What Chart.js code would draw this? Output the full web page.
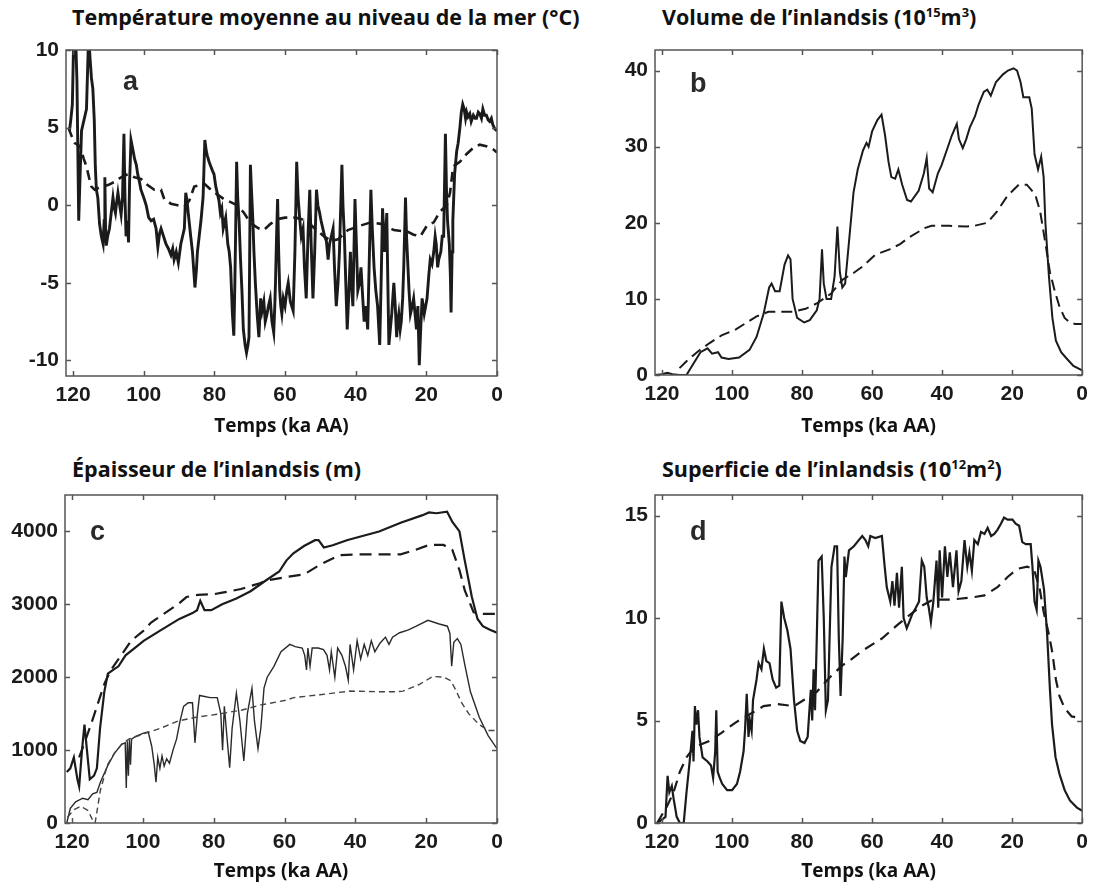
<!DOCTYPE html>
<html lang="fr">
<head>
<meta charset="utf-8">
<title>Inlandsis</title>
<script src="https://cdn.jsdelivr.net/npm/chart.js@4/dist/chart.umd.min.js"></script>
<style>
  html, body { margin: 0; padding: 0; background: #fff; }
  #page { position: relative; width: 1095px; height: 890px; overflow: hidden; }
  canvas { position: absolute; }
  .ptitle {
    position: absolute; font-family: "Open Sans", sans-serif; font-weight: 700;
    font-size: 21.5px; line-height: 28px; color: #111; white-space: nowrap;
  }
  .ptitle sup { font-size: 0.6em; line-height: 0; vertical-align: 0.6em; }
</style>
</head>
<body>
<div id="page">
  <div class="ptitle" style="left:72px;top:3px">Température moyenne au niveau de la mer (°C)</div>
  <div class="ptitle" style="left:662px;top:3px">Volume de l’inlandsis (10<sup>15</sup>m<sup>3</sup>)</div>
  <div class="ptitle" style="left:72px;top:455px">Épaisseur de l’inlandsis (m)</div>
  <div class="ptitle" style="left:662px;top:455px">Superficie de l’inlandsis (10<sup>12</sup>m<sup>2</sup>)</div>
  <canvas id="chartA" width="548" height="445" style="left:0;top:0"></canvas>
  <canvas id="chartB" width="547" height="445" style="left:548px;top:0"></canvas>
  <canvas id="chartC" width="548" height="445" style="left:0;top:445px"></canvas>
  <canvas id="chartD" width="547" height="445" style="left:548px;top:445px"></canvas>
</div>
<script>
// time axis (ka before present) shared by all panels
const timeTicks = [120, 100, 80, 60, 40, 20, 0];

// a: mean sea-level temperature (°C)
const tempTicks = [-10, -5, 0, 5, 10];
const aSolidT = [121.0,120.6,120.2,119.8,119.3,118.9,118.4,118.0,117.6,117.2,116.6,116.2,115.6,115.2,114.8,114.4,114.0,113.7,113.4,113.0,
  112.5,112.0,111.5,111.2,111.0,110.8,110.6,110.2,109.7,109.2,108.7,108.3,108.0,107.6,107.3,106.8,106.4,106.0,105.6,105.3,
  105.0,104.6,104.3,104.0,103.6,103.0,102.6,102.1,101.7,101.2,100.8,100.0,99.3,98.6,97.9,97.2,96.5,96.0,95.5,95.1,
  94.4,93.7,93.0,92.3,91.8,91.4,90.8,90.2,89.5,89.0,88.5,88.1,87.7,87.4,86.7,86.2,85.9,85.5,85.1,84.8,
  84.3,83.8,83.2,82.7,82.3,82.0,81.5,81.0,80.5,80.1,79.6,79.2,78.7,78.3,77.9,77.5,76.8,76.2,75.8,75.4,
  74.9,74.5,74.2,74.0,73.7,73.4,73.0,72.6,72.2,71.8,71.3,70.9,70.5,70.2,69.8,69.5,69.1,68.8,68.4,67.9,
  67.4,67.1,66.9,66.5,66.0,65.6,65.1,64.7,64.2,63.7,63.2,62.9,62.7,62.4,62.1,61.8,61.5,61.2,60.9,60.5,
  60.0,59.5,59.1,58.5,57.7,57.2,56.7,56.3,55.8,55.4,54.9,54.5,54.0,53.5,53.0,52.6,52.1,51.6,51.1,50.7,
  50.2,49.8,49.3,48.8,48.3,47.8,47.4,46.9,46.4,46.0,45.5,45.0,44.6,43.9,43.6,43.2,42.8,42.4,42.0,41.5,
  41.2,40.8,40.5,40.2,39.8,39.4,38.9,38.5,38.0,37.6,37.1,36.6,36.2,35.7,35.3,34.8,34.3,33.8,33.2,32.8,
  32.4,32.1,31.8,31.5,31.2,30.9,30.6,30.2,29.8,29.5,29.2,28.8,28.4,28.1,27.8,27.4,27.1,26.7,26.4,25.9,
  25.6,25.2,24.9,24.5,24.0,23.6,23.2,22.8,22.4,22.0,21.6,21.2,20.9,20.6,20.2,19.8,19.3,18.9,18.4,17.9,
  17.5,17.2,16.8,16.5,15.9,15.5,15.1,14.6,14.3,14.0,13.5,13.2,13.0,12.7,12.5,12.0,11.4,11.0,10.5,10.1,
  9.7,9.3,8.9,8.6,8.2,7.7,7.3,6.7,6.2,5.8,5.3,4.9,4.4,4.0,3.5,3.0,2.5,2.1,1.6,1.2,0.6,0.0];
const aSolidV = [4.8,5.6,6.5,11,11,8,-1.0,2,4.8,5.2,5.8,6.2,11,9.5,8.2,7.5,5.5,2.5,1.0,0.5,
  -1.2,-2.0,-2.5,-1.0,1.8,-1.5,-2.6,-2.0,-1.5,-0.5,0.5,-0.2,-0.5,0.3,0.8,0.0,-0.6,0.5,4.6,0.5,
  -2.0,-1.0,-2.4,1.5,4.2,3.5,3.0,2.6,2.0,1.5,1.0,0.5,0.0,-0.8,-1.0,-0.9,-1.5,-2.7,-1.8,-1.5,
  -2.0,-2.5,-2.8,-3.2,-2.8,-3.5,-3.0,-3.7,-2.5,-2.0,-1.5,0.8,0.2,-0.5,-2.0,-3.0,-4.0,-5.3,-4.2,-3.0,
  -2.0,-1.0,0.5,4.2,3.5,3.2,2.8,2.5,2.2,2.0,1.2,0.8,0.3,-0.5,-0.2,-1.5,-0.8,-2.5,-3.0,-4.0,
  -7.0,-8.4,-5.0,-2.0,2.8,0.5,-1.0,-3.5,-5.5,-8.0,-9.0,-9.5,-9.0,-8.5,2.6,1.0,-1.0,-3.0,-5.0,-7.0,
  -8.5,-7.0,-6.0,-6.8,-6.2,-7.5,-7.0,-6.5,-6.0,-7.5,-8.2,-6.5,-5.0,-2.0,0.4,-3.0,-5.5,-6.5,-7.0,-6.0,
  -6.5,-5.5,-5.0,-6.2,-6.8,-3.0,2.8,0.5,-1.0,-2.0,-1.5,-4.0,-6.0,-2.0,1.0,-2.5,-6.0,-3.0,1.0,0.0,
  -0.5,-1.0,-1.5,-2.0,-2.3,-3.5,-2.5,-2.0,-1.5,-4.0,-6.5,-5.0,-3.0,2.6,0.0,-2.0,-5.0,-8.0,-6.0,-3.0,
  -5.0,-6.5,-3.0,0.4,-2.5,-5.5,-5.0,-4.0,-6.0,-7.5,-6.5,-8.0,-4.0,1.0,-1.5,-4.0,-5.5,-6.5,-9.0,-5.0,
  -0.2,-1.5,-3.0,-2.0,-0.5,-5.0,-9.0,-8.0,-7.0,-6.0,-5.0,-6.5,-8.5,-7.5,-7.0,-8.0,-7.5,-6.0,-4.0,0.5,
  -2.0,-4.0,-5.5,-7.0,-6.5,-6.0,-7.0,-8.0,-6.5,-10.3,-8.0,-6.0,-6.5,-7.0,-6.5,-6.0,-4.5,-3.5,-3.8,-3.0,
  -2.0,-2.5,-4.0,-3.5,-3.0,-2.0,-2.0,4.6,1.0,-1.0,-2.5,-4.5,-6.9,-3.0,-1.0,2.0,3.5,4.0,5.0,6.0,
  6.5,6.2,5.6,6.0,5.7,5.9,5.4,5.8,5.6,5.6,6.0,5.9,5.6,6.2,5.8,5.8,5.5,5.4,5.6,5.2,4.9,4.8];
const aDashT = [121.3,120.5,119.5,118.0,117.0,116.2,115.5,114.8,113.9,112.0,110.1,108.3,106.4,104.5,102.6,100.8,98.9,97.0,95.1,94.2,
  92.3,90.4,88.5,87.1,85.7,84.0,82.9,81.0,79.2,77.3,75.4,73.5,71.6,70.2,68.8,67.4,66.0,64.1,62.3,60.0,
  57.0,55.3,53.0,51.6,49.0,46.9,45.0,42.2,38.5,35.7,32.9,29.2,25.4,23.6,21.7,19.8,17.9,16.1,14.2,13.3,
  12.4,10.5,8.6,6.7,4.9,3.0,1.1,0.0];
const aDashV = [5.0,4.5,4.0,3.8,3.0,2.5,1.8,1.2,1.0,1.2,1.3,1.5,1.8,2.0,1.8,1.7,1.3,1.0,1.0,0.4,
  0.1,0.0,-0.1,0.3,1.2,1.3,1.4,1.0,0.7,0.4,0.2,0.0,-0.5,-1.0,-1.3,-1.5,-1.6,-1.2,-0.9,-0.8,
  -0.8,-0.9,-1.2,-1.5,-2.0,-2.3,-2.2,-1.6,-1.3,-1.1,-1.2,-1.6,-1.7,-1.9,-2.0,-1.3,-1.1,-0.4,0.0,0.8,
  2.5,2.8,3.3,3.7,3.9,3.8,3.6,3.4];

// b: ice-sheet volume (10^15 m^3)
const volTicks = [0, 10, 20, 30, 40];
const bSolidT = [122.0,120.0,118.5,117.0,115.0,113.0,111.0,109.0,107.0,105.7,104.0,103.0,101.0,98.0,95.0,93.0,91.0,89.4,88.7,87.7,
  86.4,85.0,84.0,83.3,82.7,81.4,79.4,77.8,75.8,75.0,74.3,73.8,73.0,71.7,70.7,69.9,69.2,68.5,67.7,66.7,
  65.3,64.1,62.6,61.6,61.0,60.0,58.5,57.3,56.3,55.3,54.5,53.4,52.5,51.4,50.0,48.9,46.7,45.2,44.4,43.7,
  42.7,41.2,40.2,38.7,37.2,35.8,35.2,34.1,33.1,32.1,30.6,29.6,28.1,27.1,26.1,24.6,22.6,21.2,19.6,18.6,
  17.6,16.8,15.1,14.4,13.6,12.6,11.7,11.0,10.5,9.5,8.5,7.5,6.0,4.5,2.5,0.0];
const bSolidV = [0,0.1,0.3,0.1,0,0,1.5,3.0,3.5,2.8,3.0,2.3,2.1,2.3,3.3,5.0,8.0,11.5,12.0,11.0,
  11.0,14.5,15.7,15.2,10.0,7.5,6.9,7.2,8.5,10.0,16.5,12.0,10.0,10.0,13.0,19.5,13.5,11.5,12.0,17.0,
  24.0,27.0,29.5,30.5,30.0,32.0,33.5,34.2,31.5,28.0,26.0,25.8,27.0,25.0,23.0,22.8,24.2,26.5,28.5,24.5,
  24.0,26.5,27.5,29.5,31.5,33.0,31.0,29.8,31.0,32.5,34.0,35.5,37.2,37.5,36.7,38.5,39.5,40.0,40.3,40.0,
  38.5,36.5,36.5,35.0,29.0,27.0,28.7,26.0,20.0,13.0,7.5,4.5,3.0,2.2,1.2,0.6];
const bDashT = [115.0,113.0,110.0,106.4,103.0,98.9,93.0,89.6,86.0,82.6,79.0,75.8,71.7,68.5,65.0,62.6,59.1,55.0,52.0,49.7,
  45.0,43.0,38.0,33.0,30.8,27.1,24.3,21.4,18.1,15.8,13.4,12.0,10.6,9.2,7.8,6.5,5.0,3.5,2.0,0.0];
const bDashV = [0.9,1.8,3.0,4.2,5.2,6.0,7.7,8.3,8.3,8.3,8.7,9.4,10.7,12.5,13.5,14.3,15.8,16.5,17.2,18.0,
  19.3,19.6,19.6,19.5,19.6,20.0,21.5,23.5,25.0,25.0,23.7,21.5,17.6,13.5,11.0,9.0,7.5,6.9,6.7,6.7];

// c: ice-sheet thickness (m)
const thickTicks = [0, 1000, 2000, 3000, 4000];
const cUpperSolidT = [121.5,120.5,119.5,118.5,118.0,117.2,116.5,115.8,115.0,113.8,113.0,112.1,110.9,109.9,108.4,106.9,104.9,101.8,99.8,94.8,
  89.7,86.0,84.7,83.8,82.6,80.7,77.6,73.6,69.6,65.5,61.5,59.5,57.5,54.5,51.4,50.4,48.9,46.4,42.4,39.3,
  33.3,27.2,21.2,19.2,17.1,14.1,12.6,10.6,9.1,7.1,5.5,4.0,2.0,0.0];
const cUpperSolidV = [700,750,900,600,500,1000,1350,1000,600,650,750,1300,1800,2050,2100,2150,2300,2420,2500,2650,
  2800,2880,2920,3050,2920,2920,3000,3080,3180,3320,3450,3600,3700,3800,3880,3880,3780,3810,3880,3920,
  4000,4120,4220,4260,4250,4270,4130,4000,3600,3100,2800,2700,2650,2610];
const cUpperDashT = [118.0,116.5,114.6,112.7,110.8,109.0,107.0,103.3,99.8,97.7,93.8,90.1,87.7,84.5,79.8,77.6,72.3,67.0,64.8,59.5,
  54.5,49.4,44.4,39.3,32.3,27.2,23.2,19.2,15.1,12.6,10.6,9.1,6.6,4.0,0.0];
const cUpperDashV = [900,1100,1360,1640,1920,2100,2240,2500,2640,2750,2880,3000,3100,3130,3140,3160,3210,3290,3330,3375,
  3410,3560,3675,3685,3685,3685,3745,3815,3815,3745,3470,3190,2890,2870,2870];
const cLowerSolidT = [121.5,120.5,119.0,117.0,115.5,114.2,113.0,112.0,110.0,108.0,106.0,105.0,104.7,104.4,104.1,103.8,103.5,103.2,102.0,100.0,
  98.5,97.5,96.8,96.3,95.8,95.2,94.6,94.0,93.3,92.5,91.5,90.5,89.5,88.5,87.2,86.0,85.3,84.6,84.0,81.0,
  79.0,78.0,77.5,77.0,76.3,75.5,74.8,73.6,72.6,71.5,70.5,69.2,68.5,67.5,66.7,65.8,64.9,63.0,61.0,58.5,
  57.0,55.0,54.3,53.8,53.4,52.8,52.2,50.5,49.0,48.0,47.3,46.8,45.8,45.0,43.8,42.8,42.0,41.5,40.5,39.5,
  38.5,37.5,36.5,35.5,34.5,33.0,31.5,30.5,29.5,27.5,25.0,22.8,19.5,16.3,14.0,13.3,12.8,12.2,11.2,10.2,
  9.0,7.5,5.0,2.5,0.0];
const cLowerSolidV = [0,200,290,340,320,400,420,560,780,960,1080,1100,480,1120,650,1150,800,1150,1190,1230,
  1250,1050,800,560,900,750,920,780,880,820,1000,1150,1400,1600,1650,1650,1100,1500,1750,1720,
  1720,1500,1000,1600,1200,760,1300,1780,1400,850,1500,1850,1400,1020,1300,1850,2000,2150,2350,2450,
  2420,2400,2300,2100,2400,2150,2400,2400,2380,2300,2100,2350,2000,2400,2300,2150,1960,2450,2100,2500,
  2250,2450,2300,2500,2350,2470,2550,2450,2550,2610,2650,2700,2780,2730,2700,2600,2150,2480,2530,2450,
  2150,1800,1450,1200,1020];
const cLowerDashT = [121.3,119.5,117.5,115.5,114.2,113.5,112.0,110.0,108.0,106.0,104.0,100.0,95.0,90.0,85.0,78.0,72.0,66.7,60.0,57.4,
  50.0,41.5,32.0,28.4,26.5,22.0,18.1,15.0,13.0,11.6,10.0,8.0,5.0,2.5,0.0];
const cLowerDashV = [80,180,230,170,40,0,450,800,960,1080,1150,1220,1300,1400,1450,1500,1550,1620,1680,1720,
  1760,1810,1800,1800,1810,1900,2010,2000,1950,1820,1650,1500,1350,1270,1270];

// d: ice-sheet area (10^12 m^2)
const areaTicks = [0, 5, 10, 15];
const dSolidT = [121.4,120.5,119.0,118.4,117.9,117.2,116.7,115.8,114.9,113.8,113.0,112.1,111.3,111.0,110.6,110.2,109.7,109.3,108.4,107.0,
  106.0,105.4,104.8,104.5,104.1,103.5,102.8,101.4,100.0,98.6,97.7,96.7,96.3,95.8,95.3,94.9,94.4,94.0,93.0,92.4,
  91.6,90.9,90.2,89.3,88.4,87.4,86.5,85.9,85.1,84.2,83.3,82.3,81.4,80.5,79.3,78.4,77.9,77.5,77.1,76.7,
  76.3,75.8,75.3,74.4,73.8,73.2,72.6,71.6,70.7,70.0,69.5,69.0,68.4,67.9,67.5,66.6,65.2,63.8,62.8,61.9,
  61.1,60.5,59.1,57.2,56.4,55.8,54.8,54.2,53.6,52.9,52.3,51.5,51.0,50.1,49.4,48.5,47.5,46.6,45.8,45.1,
  44.4,43.8,43.2,42.5,41.6,41.1,40.7,40.0,39.2,38.5,37.8,36.9,35.9,35.3,34.5,33.6,32.8,32.2,31.5,30.8,
  29.8,28.9,27.9,27.0,26.0,25.1,24.2,23.2,22.3,21.3,19.9,19.0,18.0,17.1,16.1,14.7,14.2,13.6,13.0,12.5,
  11.9,10.9,10.0,9.2,8.6,7.6,6.5,5.0,3.5,1.5,0.0];
const dSolidV = [0,0.1,0.3,2.3,1.5,1.8,1.2,0.3,0,0,1.5,3.0,4.5,3.0,5.7,4.8,5.5,4.2,3.2,3.0,
  2.8,2.2,3.5,5.5,2.5,2.2,1.9,1.6,1.6,1.9,2.5,3.5,4.5,6.3,4.2,5.0,4.5,6.0,7.0,7.8,
  7.5,8.5,7.9,7.8,7.0,6.6,6.7,10.8,10.0,9.4,8.5,6.0,4.5,4.0,3.9,4.2,5.5,6.5,5.0,7.5,
  5.5,9.0,12.8,13.0,10.0,5.5,6.0,12.5,13.5,13.5,9.0,6.2,9.0,13.0,12.0,13.3,13.5,13.8,14.0,13.8,
  13.5,14.0,13.9,14.0,12.5,11.5,10.8,11.8,10.6,12.2,10.5,12.5,10.0,9.5,9.8,10.2,10.5,10.8,12.8,12.5,
  11.0,10.5,9.8,10.8,12.8,10.5,13.3,11.0,13.5,12.0,13.2,11.5,13.3,11.3,11.8,13.8,12.5,13.2,12.3,13.8,
  13.6,14.2,14.1,14.4,14.0,14.1,14.3,14.6,14.9,14.8,14.8,14.6,14.5,13.7,13.6,13.6,12.5,10.8,10.4,12.8,
  12.5,11.4,9.2,6.5,4.8,3.2,2.4,1.6,1.1,0.75,0.6];
const dDashT = [121.4,118.6,116.7,114.9,113.0,111.2,109.3,106.5,103.0,99.0,95.0,91.0,87.0,82.3,79.5,75.8,72.1,68.4,66.6,62.8,
  57.2,52.5,49.6,45.8,42.5,37.4,31.7,27.9,24.2,21.3,18.5,15.7,13.8,12.1,11.0,9.5,8.5,7.5,6.5,5.0,
  3.0,0.0];
const dDashV = [0,0.8,1.5,2.5,3.2,3.6,3.8,4.0,4.4,4.9,5.3,5.7,5.8,5.7,6.0,6.4,7.1,7.7,7.9,8.4,
  9.0,9.7,10.1,10.6,10.9,10.9,11.0,11.1,11.5,12.0,12.4,12.5,12.4,11.4,10.3,9.2,8.3,7.0,6.2,5.6,
  5.2,5.1];

const panelLetters = ['a', 'b', 'c', 'd'];

const ink = '#1b1b1b';
const tickFont = { family: '"Liberation Sans", Arial, sans-serif', size: 21, weight: 'bold' };
const titleFont = { family: '"Open Sans", sans-serif', size: 19, weight: 'bold' };

function pts(ts, vs) {
  return ts.map((t, i) => ({ x: t, y: vs[i] }));
}

// matlab-like box with inward ticks and the panel letter
const boxPlugin = {
  id: 'box',
  afterDatasetsDraw(chart, args, opts) {
    const { ctx, chartArea: a, scales } = chart;
    ctx.save();
    ctx.strokeStyle = '#555';
    ctx.lineWidth = 1.5;
    ctx.strokeRect(a.left, a.top, a.width, a.height);
    ctx.beginPath();
    scales.x.ticks.forEach(t => {
      const px = Math.round(scales.x.getPixelForValue(t.value)) + 0.5;
      ctx.moveTo(px, a.bottom); ctx.lineTo(px, a.bottom - 5);
      ctx.moveTo(px, a.top); ctx.lineTo(px, a.top + 5);
    });
    scales.y.ticks.forEach(t => {
      const py = Math.round(scales.y.getPixelForValue(t.value)) + 0.5;
      ctx.moveTo(a.left, py); ctx.lineTo(a.left + 5, py);
      ctx.moveTo(a.right, py); ctx.lineTo(a.right - 5, py);
    });
    ctx.stroke();
    ctx.fillStyle = '#2a2a2a';
    ctx.font = 'bold 27px "Liberation Sans", Arial, sans-serif';
    ctx.textBaseline = 'alphabetic';
    ctx.fillText(opts.letter, a.left + opts.dx, a.top + opts.dy);
    ctx.restore();
  }
};

function makePanel(id, cfg) {
  const datasets = cfg.series.map(s => ({
    data: pts(s.t, s.v),
    borderColor: s.color || ink,
    borderWidth: s.width,
    borderDash: s.dash || [],
    pointRadius: 0,
    tension: 0,
    fill: false
  }));
  return new Chart(document.getElementById(id), {
    type: 'line',
    data: { datasets },
    plugins: [boxPlugin],
    options: {
      responsive: false,
      animation: false,
      devicePixelRatio: 1,
      layout: { padding: { top: cfg.top, right: cfg.right, left: 0, bottom: 0 } },
      plugins: {
        legend: { display: false },
        tooltip: { enabled: false },
        box: { letter: cfg.letter, dx: cfg.letterDx, dy: cfg.letterDy }
      },
      scales: {
        x: {
          type: 'linear', reverse: true, min: 0, max: 122,
          afterBuildTicks: s => { s.ticks = timeTicks.map(v => ({ value: v })); },
          afterFit: s => { s.height = cfg.xHeight; },
          grid: { display: false, drawTicks: false },
          border: { display: false },
          ticks: { font: tickFont, color: ink, padding: 7, maxRotation: 0, autoSkip: false,
                   callback: v => String(v) },
          title: { display: true, text: 'Temps (ka AA)', font: titleFont, color: '#111',
                   padding: { top: 0, bottom: 7 } }
        },
        y: {
          type: 'linear', min: cfg.yMin, max: cfg.yMax,
          afterBuildTicks: s => { s.ticks = cfg.yTicks.map(v => ({ value: v })); },
          afterFit: s => { s.width = cfg.left; },
          grid: { display: false, drawTicks: false },
          border: { display: false },
          ticks: { font: tickFont, color: ink, padding: 7, autoSkip: false,
                   callback: v => String(v) }
        }
      }
    }
  });
}

makePanel('chartA', {
  top: 50, right: 51, left: 66, xHeight: 69, yMin: -11, yMax: 10, yTicks: tempTicks,
  letter: panelLetters[0], letterDx: 57, letterDy: 40,
  series: [
    { t: aDashT, v: aDashV, width: 2.6, dash: [10, 6] },
    { t: aSolidT, v: aSolidV, width: 2.9 }
  ]
});

makePanel('chartB', {
  top: 50, right: 7, left: 107, xHeight: 70, yMin: 0, yMax: 42.7, yTicks: volTicks,
  letter: panelLetters[1], letterDx: 35, letterDy: 42,
  series: [
    { t: bDashT, v: bDashV, width: 2, dash: [11, 6] },
    { t: bSolidT, v: bSolidV, width: 2 }
  ]
});

makePanel('chartC', {
  top: 50, right: 51, left: 65, xHeight: 67, yMin: 0, yMax: 4500, yTicks: thickTicks,
  letter: panelLetters[2], letterDx: 25, letterDy: 45,
  series: [
    { t: cUpperDashT, v: cUpperDashV, width: 2.2, dash: [12, 7] },
    { t: cUpperSolidT, v: cUpperSolidV, width: 2.2 },
    { t: cLowerDashT, v: cLowerDashV, width: 1.4, dash: [6, 4], color: '#444' },
    { t: cLowerSolidT, v: cLowerSolidV, width: 1.4, color: '#2a2a2a' }
  ]
});

makePanel('chartD', {
  top: 50, right: 7, left: 107, xHeight: 67, yMin: 0, yMax: 16, yTicks: areaTicks,
  letter: panelLetters[3], letterDx: 35, letterDy: 45,
  series: [
    { t: dDashT, v: dDashV, width: 2.2, dash: [11, 7] },
    { t: dSolidT, v: dSolidV, width: 2.2 }
  ]
});
</script>
</body>
</html>
